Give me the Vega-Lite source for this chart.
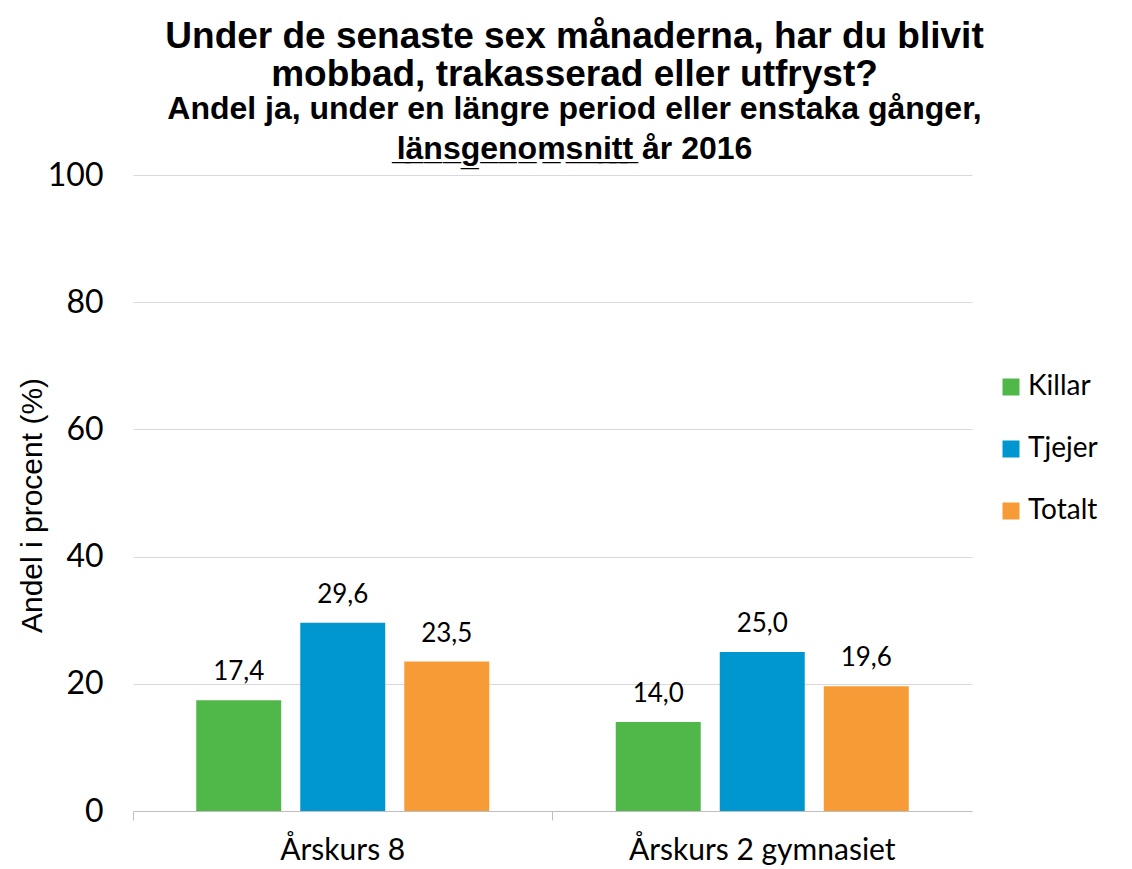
{
  "$schema": "https://vega.github.io/schema/vega-lite/v6.json",
  "autosize": "none",
  "width": 839,
  "height": 636,
  "padding": {"left": 133, "top": 175, "right": 160, "bottom": 58},
  "background": "white",
  "title": {
    "text": ["Under de senaste sex månaderna, har du blivit", "mobbad, trakasserad eller utfryst?"],
    "subtitle": ["Andel ja, under en längre period eller enstaka gånger,", "l̲ä̲n̲s̲g̲e̲n̲o̲m̲s̲n̲i̲t̲t̲ år 2016"],
    "anchor": "middle",
    "frame": "group",
    "dx": 22,
    "dy": 15,
    "offset": 8,
    "font": "Liberation Sans",
    "fontSize": 37,
    "fontWeight": "bold",
    "lineHeight": 38,
    "color": "#000000",
    "subtitleFont": "Liberation Sans",
    "subtitleFontSize": 32,
    "subtitleFontWeight": "bold",
    "subtitleColor": "#000000",
    "subtitleLineHeight": 40,
    "subtitlePadding": 0
  },
  "data": {
    "values": [
      {"grade": "Årskurs 8", "group": "Killar", "value": 17.4},
      {"grade": "Årskurs 8", "group": "Tjejer", "value": 29.6},
      {"grade": "Årskurs 8", "group": "Totalt", "value": 23.5},
      {"grade": "Årskurs 2 gymnasiet", "group": "Killar", "value": 14.0},
      {"grade": "Årskurs 2 gymnasiet", "group": "Tjejer", "value": 25.0},
      {"grade": "Årskurs 2 gymnasiet", "group": "Totalt", "value": 19.6}
    ]
  },
  "encoding": {
    "x": {
      "field": "grade",
      "type": "nominal",
      "sort": ["Årskurs 8", "Årskurs 2 gymnasiet"],
      "scale": {"paddingInner": 0, "paddingOuter": 0},
      "axis": {
        "title": null,
        "labelAngle": 0,
        "labelFont": "Lato",
        "labelFontSize": 30,
        "labelColor": "#000000",
        "labelPadding": 15,
        "labelLimit": 0,
        "bandPosition": 0,
        "tickSize": 9,
        "tickColor": "#BFBFBF",
        "domainColor": "#BFBFBF",
        "grid": false
      }
    },
    "xOffset": {
      "field": "group",
      "type": "nominal",
      "sort": ["Killar", "Tjejer", "Totalt"],
      "scale": {"paddingInner": 0.183, "paddingOuter": 0.608}
    },
    "y": {
      "field": "value",
      "type": "quantitative",
      "scale": {"domain": [0, 100]},
      "axis": {
        "title": "Andel i procent (%)",
        "titleFont": "Liberation Sans",
        "titleFontSize": 30,
        "titleFontWeight": "normal",
        "titleColor": "#000000",
        "titlePadding": 0,
        "titleY": 330,
        "values": [0, 20, 40, 60, 80, 100],
        "labelFont": "Lato",
        "labelFontSize": 32,
        "labelColor": "#000000",
        "labelPadding": 30,
        "ticks": false,
        "domain": false,
        "gridColor": "#D9D9D9",
        "gridWidth": 1
      }
    }
  },
  "layer": [
    {
      "mark": {"type": "bar"},
      "encoding": {
        "color": {
          "field": "group",
          "type": "nominal",
          "sort": ["Killar", "Tjejer", "Totalt"],
          "scale": {"domain": ["Killar", "Tjejer", "Totalt"], "range": ["#50B848", "#0096CF", "#F79B36"]},
          "legend": {
            "title": null,
            "orient": "none",
            "legendX": 864,
            "legendY": 198,
            "symbolType": "square",
            "symbolSize": 289,
            "symbolStrokeWidth": 0,
            "labelFont": "Lato",
            "labelFontSize": 28,
            "labelColor": "#000000",
            "labelOffset": 3,
            "rowPadding": 34
          }
        }
      }
    },
    {
      "mark": {"type": "text", "baseline": "alphabetic", "dy": -20, "font": "Lato", "fontSize": 26, "color": "#000000"},
      "encoding": {
        "text": {"field": "value", "type": "quantitative", "format": ".1f"}
      }
    }
  ],
  "config": {
    "view": {"stroke": null},
    "locale": {"number": {"decimal": ",", "thousands": " ", "grouping": [3], "currency": ["", " kr"]}}
  }
}
